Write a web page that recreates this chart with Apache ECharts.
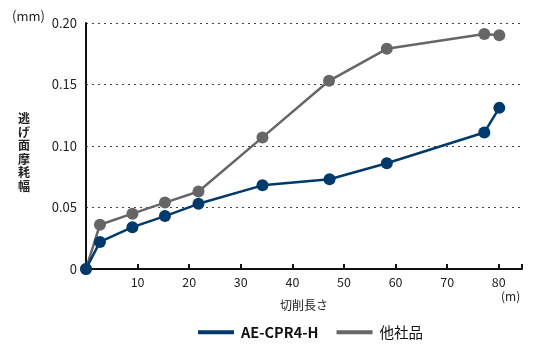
<!DOCTYPE html>
<html>
<head>
<meta charset="utf-8">
<script src="https://cdn.jsdelivr.net/npm/echarts@6/dist/echarts.min.js"></script>
<style>
  html, body { margin: 0; padding: 0; background: #fff; }
  #chart { width: 538px; height: 351px; }
</style>
</head>
<body>
<div id="chart"></div>
<script>
  // 切削長さ (m)
  var lengthAE = [0, 2.7, 9.0, 15.3, 21.8, 34.2, 47.2, 58.3, 77.2, 80.1];
  var lengthOther = [0, 2.7, 9.0, 15.3, 21.8, 34.2, 47.1, 58.3, 77.2, 80.1];
  // 逃げ面摩耗幅 (mm)
  var wearAE = [0, 0.022, 0.034, 0.043, 0.053, 0.068, 0.073, 0.086, 0.111, 0.131];
  var wearOther = [0, 0.036, 0.045, 0.054, 0.063, 0.107, 0.153, 0.179, 0.191, 0.190];
  var seriesNames = ['AE-CPR4-H', '他社品'];
  var colors = ['#00396b', '#666666'];

  function pairs(xs, ys) {
    var out = [];
    for (var i = 0; i < xs.length; i++) out.push([xs[i], ys[i]]);
    return out;
  }

  var font = '"Noto Sans CJK JP", "Noto Sans", sans-serif';
  var chart = echarts.init(document.getElementById('chart'));

  var option = {
    animation: false,
    textStyle: { fontFamily: font },
    grid: { left: 86, right: 16, top: 23, bottom: 82, containLabel: false },
    legend: {
      top: 320,
      left: 193,
      itemWidth: 36,
      itemHeight: 4,
      itemGap: 18,
      icon: 'rect',
      data: [
        { name: seriesNames[0], textStyle: { fontWeight: 'bold' } },
        { name: seriesNames[1] }
      ],
      textStyle: { fontSize: 14.5, color: '#111', fontFamily: font, padding: [0, 0, 0, 2] }
    },
    xAxis: {
      type: 'value',
      min: 0,
      max: 84.5,
      interval: 10,
      name: '切削長さ',
      nameLocation: 'middle',
      nameGap: 30,
      nameTextStyle: { fontSize: 12, color: '#222' },
      axisLine: { show: true, lineStyle: { color: '#111', width: 2 } },
      axisTick: { show: true, inside: true, length: 5, lineStyle: { color: '#111', width: 2 } },
      splitLine: { show: false },
      axisLabel: {
        fontSize: 12.5, color: '#222', margin: 7,
        formatter: function (v) { return (v === 0 || v % 10 !== 0) ? '' : String(v); }
      }
    },
    yAxis: {
      type: 'value',
      min: 0,
      max: 0.2,
      interval: 0.05,
      axisLine: { show: true, lineStyle: { color: '#111', width: 2 } },
      axisTick: { show: false },
      splitLine: { show: true, lineStyle: { color: '#444', type: [2, 4], width: 1 } },
      axisLabel: {
        fontSize: 13, color: '#222', margin: 9,
        formatter: function (v) { return v === 0 ? '0' : v.toFixed(2); }
      }
    },
    graphic: [
      { type: 'text', left: 12, top: 10, style: { text: '(mm)', fontSize: 13, fill: '#222', fontFamily: font } },
      { type: 'text', left: 501, top: 290, style: { text: '(m)', fontSize: 12, fill: '#222', fontFamily: font } },
      { type: 'text', left: 18, top: 112, style: { text: '逃\nげ\n面\n摩\n耗\n幅', fontSize: 12, lineHeight: 13.5, fill: '#222', fontFamily: font, fontWeight: 'bold' } }
    ],
    series: [
      {
        name: seriesNames[1],
        type: 'line',
        data: pairs(lengthOther, wearOther),
        color: colors[1],
        symbol: 'circle',
        symbolSize: 12,
        lineStyle: { width: 2.5, color: colors[1] },
        itemStyle: { color: colors[1] },
        z: 2
      },
      {
        name: seriesNames[0],
        type: 'line',
        data: pairs(lengthAE, wearAE),
        color: colors[0],
        symbol: 'circle',
        symbolSize: 12,
        lineStyle: { width: 2.5, color: colors[0] },
        itemStyle: { color: colors[0] },
        z: 3
      }
    ]
  };

  chart.setOption(option);
</script>
</body>
</html>
